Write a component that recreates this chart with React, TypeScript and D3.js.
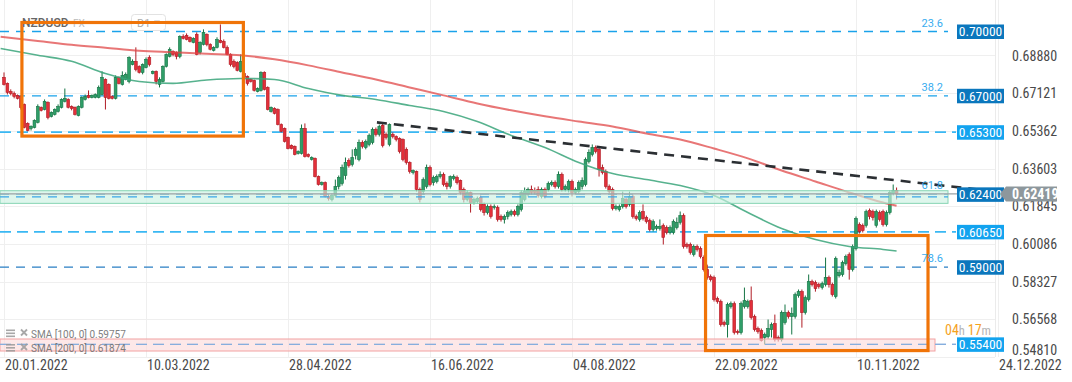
import React from 'react';
import * as d3 from 'd3';

const W = 1072;
const H = 382;

const dateLabels = ['20.01.2022', '10.03.2022', '28.04.2022', '16.06.2022', '04.08.2022', '22.09.2022', '10.11.2022', '24.12.2022'];
const dateIdx = [0, 42, 84, 126, 168, 210, 252, 294];

// [open, high, low, close]
const candles: [number, number, number, number][] = [
  [0.6786,0.6809,0.6748,0.6753],[0.6758,0.6762,0.6706,0.6716],[0.6720,0.6730,0.6702,0.6711],[0.6711,0.6720,0.6688,0.6697],
  [0.6702,0.6706,0.6683,0.6688],[0.6697,0.6702,0.6636,0.6646],[0.6660,0.6664,0.6548,0.6552],[0.6571,0.6576,0.6534,0.6538],
  [0.6548,0.6562,0.6538,0.6557],[0.6552,0.6590,0.6548,0.6585],[0.6576,0.6660,0.6571,0.6650],[0.6646,0.6650,0.6627,0.6632],
  [0.6636,0.6683,0.6632,0.6674],[0.6669,0.6674,0.6590,0.6599],[0.6604,0.6627,0.6599,0.6622],[0.6613,0.6641,0.6608,0.6636],
  [0.6627,0.6660,0.6622,0.6650],[0.6646,0.6688,0.6641,0.6683],[0.6674,0.6734,0.6669,0.6688],[0.6683,0.6688,0.6641,0.6646],
  [0.6650,0.6655,0.6632,0.6641],[0.6646,0.6650,0.6608,0.6613],[0.6608,0.6655,0.6604,0.6650],[0.6646,0.6697,0.6641,0.6692],
  [0.6683,0.6706,0.6678,0.6697],[0.6702,0.6725,0.6688,0.6692],[0.6692,0.6706,0.6688,0.6702],[0.6692,0.6711,0.6688,0.6706],
  [0.6692,0.6748,0.6688,0.6739],[0.6706,0.6814,0.6702,0.6786],[0.6776,0.6781,0.6636,0.6692],[0.6753,0.6758,0.6683,0.6688],
  [0.6697,0.6702,0.6683,0.6688],[0.6688,0.6795,0.6683,0.6786],[0.6786,0.6790,0.6753,0.6758],[0.6753,0.6814,0.6748,0.6795],
  [0.6776,0.6809,0.6772,0.6800],[0.6767,0.6884,0.6758,0.6879],[0.6846,0.6870,0.6842,0.6861],[0.6861,0.6926,0.6814,0.6823],
  [0.6837,0.6842,0.6804,0.6809],[0.6809,0.6851,0.6800,0.6846],[0.6832,0.6879,0.6828,0.6870],[0.6879,0.6889,0.6837,0.6846],
  [0.6804,0.6818,0.6800,0.6814],[0.6814,0.6818,0.6753,0.6767],[0.6753,0.6786,0.6739,0.6776],[0.6767,0.6842,0.6762,0.6837],
  [0.6837,0.6898,0.6832,0.6893],[0.6884,0.6926,0.6879,0.6917],[0.6907,0.6912,0.6884,0.6893],[0.6903,0.6907,0.6870,0.6884],
  [0.6884,0.6982,0.6875,0.6977],[0.6977,0.6987,0.6963,0.6968],[0.6982,0.6991,0.6959,0.6963],[0.6973,0.6977,0.6949,0.6954],
  [0.6949,0.6973,0.6945,0.6968],[0.6987,0.6996,0.6889,0.6893],[0.6903,0.6954,0.6893,0.6949],[0.6940,0.7010,0.6935,0.6996],
  [0.6987,0.6991,0.6931,0.6940],[0.6940,0.6945,0.6912,0.6917],[0.6912,0.6931,0.6907,0.6926],[0.6926,0.6973,0.6921,0.6963],
  [0.6959,0.7033,0.6945,0.6949],[0.6954,0.6963,0.6921,0.6926],[0.6926,0.6935,0.6889,0.6893],[0.6893,0.6898,0.6837,0.6846],
  [0.6861,0.6870,0.6828,0.6837],[0.6856,0.6861,0.6814,0.6818],[0.6814,0.6893,0.6809,0.6861],[0.6804,0.6814,0.6781,0.6786],
  [0.6790,0.6795,0.6748,0.6758],[0.6776,0.6781,0.6762,0.6767],[0.6772,0.6776,0.6720,0.6725],[0.6720,0.6739,0.6716,0.6734],
  [0.6725,0.6814,0.6720,0.6809],[0.6809,0.6814,0.6725,0.6730],[0.6739,0.6744,0.6632,0.6636],[0.6627,0.6650,0.6622,0.6646],
  [0.6641,0.6646,0.6613,0.6618],[0.6636,0.6641,0.6562,0.6566],[0.6566,0.6571,0.6529,0.6534],[0.6548,0.6552,0.6482,0.6487],
  [0.6506,0.6510,0.6450,0.6454],[0.6468,0.6473,0.6450,0.6454],[0.6464,0.6468,0.6422,0.6426],[0.6431,0.6445,0.6426,0.6440],
  [0.6431,0.6566,0.6426,0.6548],[0.6548,0.6571,0.6412,0.6417],[0.6426,0.6431,0.6412,0.6417],[0.6403,0.6417,0.6398,0.6412],
  [0.6408,0.6412,0.6319,0.6323],[0.6323,0.6328,0.6281,0.6286],[0.6286,0.6300,0.6281,0.6295],[0.6295,0.6300,0.6225,0.6230],
  [0.6230,0.6239,0.6211,0.6221],[0.6216,0.6244,0.6207,0.6235],[0.6235,0.6309,0.6225,0.6277],[0.6277,0.6328,0.6263,0.6319],
  [0.6291,0.6379,0.6281,0.6365],[0.6328,0.6412,0.6309,0.6389],[0.6398,0.6408,0.6365,0.6375],[0.6379,0.6450,0.6370,0.6412],
  [0.6422,0.6459,0.6403,0.6450],[0.6403,0.6496,0.6394,0.6482],[0.6482,0.6492,0.6454,0.6464],[0.6459,0.6496,0.6450,0.6487],
  [0.6473,0.6524,0.6464,0.6515],[0.6482,0.6552,0.6473,0.6543],[0.6543,0.6552,0.6510,0.6520],[0.6520,0.6566,0.6510,0.6557],
  [0.6562,0.6571,0.6459,0.6468],[0.6520,0.6529,0.6496,0.6506],[0.6473,0.6571,0.6464,0.6566],[0.6520,0.6529,0.6501,0.6510],
  [0.6510,0.6515,0.6487,0.6496],[0.6501,0.6506,0.6431,0.6440],[0.6496,0.6501,0.6394,0.6403],[0.6450,0.6459,0.6379,0.6389],
  [0.6389,0.6394,0.6337,0.6347],[0.6342,0.6356,0.6333,0.6351],[0.6347,0.6351,0.6253,0.6263],[0.6263,0.6272,0.6202,0.6216],
  [0.6253,0.6319,0.6239,0.6309],[0.6277,0.6379,0.6267,0.6365],[0.6365,0.6375,0.6277,0.6286],[0.6295,0.6328,0.6281,0.6319],
  [0.6300,0.6333,0.6291,0.6323],[0.6323,0.6347,0.6314,0.6333],[0.6333,0.6342,0.6277,0.6286],[0.6291,0.6300,0.6263,0.6277],
  [0.6277,0.6328,0.6267,0.6323],[0.6314,0.6333,0.6305,0.6323],[0.6319,0.6328,0.6286,0.6295],[0.6305,0.6309,0.6239,0.6249],
  [0.6263,0.6272,0.6202,0.6216],[0.6216,0.6258,0.6207,0.6249],[0.6249,0.6253,0.6155,0.6202],[0.6202,0.6225,0.6193,0.6216],
  [0.6207,0.6230,0.6197,0.6221],[0.6225,0.6235,0.6160,0.6169],[0.6193,0.6202,0.6141,0.6155],[0.6155,0.6193,0.6146,0.6183],
  [0.6183,0.6193,0.6127,0.6137],[0.6179,0.6193,0.6169,0.6183],[0.6179,0.6188,0.6113,0.6123],[0.6137,0.6146,0.6113,0.6123],
  [0.6123,0.6146,0.6104,0.6137],[0.6137,0.6165,0.6123,0.6155],[0.6146,0.6169,0.6137,0.6160],[0.6160,0.6169,0.6137,0.6146],
  [0.6146,0.6193,0.6137,0.6183],[0.6169,0.6258,0.6160,0.6249],[0.6216,0.6272,0.6207,0.6253],[0.6239,0.6272,0.6230,0.6263],
  [0.6263,0.6281,0.6239,0.6249],[0.6258,0.6272,0.6239,0.6249],[0.6263,0.6277,0.6225,0.6235],[0.6230,0.6272,0.6221,0.6263],
  [0.6263,0.6272,0.6221,0.6230],[0.6263,0.6300,0.6253,0.6291],[0.6286,0.6305,0.6277,0.6295],[0.6295,0.6305,0.6267,0.6277],
  [0.6277,0.6347,0.6267,0.6333],[0.6333,0.6342,0.6253,0.6263],[0.6263,0.6286,0.6253,0.6277],[0.6263,0.6309,0.6249,0.6300],
  [0.6300,0.6309,0.6230,0.6249],[0.6249,0.6272,0.6239,0.6263],[0.6253,0.6305,0.6244,0.6295],[0.6277,0.6319,0.6263,0.6305],
  [0.6286,0.6412,0.6277,0.6403],[0.6394,0.6450,0.6384,0.6436],[0.6426,0.6473,0.6417,0.6459],[0.6459,0.6468,0.6431,0.6440],
  [0.6450,0.6459,0.6323,0.6356],[0.6365,0.6379,0.6333,0.6342],[0.6347,0.6356,0.6267,0.6277],[0.6277,0.6286,0.6244,0.6253],
  [0.6263,0.6272,0.6165,0.6174],[0.6174,0.6193,0.6165,0.6183],[0.6169,0.6193,0.6160,0.6183],[0.6183,0.6253,0.6174,0.6221],
  [0.6216,0.6225,0.6174,0.6183],[0.6193,0.6253,0.6183,0.6230],[0.6230,0.6239,0.6127,0.6137],[0.6137,0.6146,0.6118,0.6127],
  [0.6123,0.6165,0.6113,0.6155],[0.6160,0.6193,0.6118,0.6127],[0.6132,0.6141,0.6104,0.6113],[0.6118,0.6127,0.6067,0.6076],
  [0.6076,0.6123,0.6067,0.6113],[0.6081,0.6099,0.6071,0.6090],[0.6081,0.6123,0.6071,0.6090],[0.6095,0.6104,0.6006,0.6039],
  [0.6085,0.6095,0.6053,0.6062],[0.6062,0.6095,0.6053,0.6085],[0.6062,0.6123,0.6053,0.6113],[0.6085,0.6132,0.6076,0.6109],
  [0.6109,0.6160,0.6099,0.6141],[0.6141,0.6151,0.5987,0.5997],[0.6006,0.6015,0.5987,0.5997],[0.6006,0.6015,0.5959,0.5969],
  [0.5959,0.6006,0.5950,0.5997],[0.5997,0.6006,0.5973,0.5983],[0.5987,0.5997,0.5941,0.5950],[0.5945,0.5955,0.5880,0.5889],
  [0.5889,0.5912,0.5842,0.5852],[0.5856,0.5866,0.5833,0.5842],[0.5852,0.5861,0.5740,0.5749],[0.5754,0.5763,0.5730,0.5740],
  [0.5740,0.5749,0.5623,0.5632],[0.5642,0.5651,0.5623,0.5632],[0.5632,0.5735,0.5572,0.5726],[0.5716,0.5740,0.5707,0.5730],
  [0.5730,0.5740,0.5586,0.5595],[0.5600,0.5609,0.5586,0.5595],[0.5595,0.5740,0.5586,0.5730],[0.5716,0.5805,0.5707,0.5744],
  [0.5716,0.5749,0.5707,0.5740],[0.5744,0.5810,0.5656,0.5665],[0.5670,0.5679,0.5600,0.5609],[0.5614,0.5623,0.5590,0.5600],
  [0.5604,0.5614,0.5553,0.5558],[0.5572,0.5595,0.5539,0.5586],[0.5576,0.5656,0.5567,0.5614],[0.5609,0.5642,0.5572,0.5632],
  [0.5637,0.5679,0.5553,0.5562],[0.5572,0.5581,0.5553,0.5562],[0.5562,0.5698,0.5553,0.5688],[0.5642,0.5726,0.5632,0.5688],
  [0.5688,0.5698,0.5660,0.5670],[0.5670,0.5712,0.5586,0.5684],[0.5670,0.5782,0.5660,0.5772],[0.5768,0.5796,0.5758,0.5786],
  [0.5786,0.5796,0.5618,0.5688],[0.5688,0.5768,0.5679,0.5758],[0.5749,0.5866,0.5740,0.5833],[0.5833,0.5842,0.5810,0.5819],
  [0.5828,0.5838,0.5786,0.5800],[0.5819,0.5828,0.5800,0.5810],[0.5805,0.5833,0.5796,0.5824],[0.5819,0.5945,0.5810,0.5852],
  [0.5852,0.5861,0.5805,0.5819],[0.5819,0.5828,0.5763,0.5772],[0.5763,0.5950,0.5754,0.5941],[0.5861,0.5889,0.5852,0.5875],
  [0.5866,0.5931,0.5856,0.5922],[0.5917,0.5959,0.5908,0.5950],[0.5959,0.5969,0.5842,0.5889],[0.5889,0.6006,0.5880,0.5997],
  [0.5987,0.6137,0.5978,0.6127],[0.6099,0.6109,0.6057,0.6067],[0.6095,0.6104,0.6062,0.6071],[0.6095,0.6169,0.6085,0.6160],
  [0.6165,0.6174,0.6123,0.6137],[0.6160,0.6169,0.6118,0.6132],[0.6095,0.6169,0.6085,0.6160],[0.6155,0.6165,0.6113,0.6123],
  [0.6160,0.6169,0.6090,0.6099],[0.6099,0.6165,0.6090,0.6155],[0.6155,0.6258,0.6146,0.6249],[0.6244,0.6286,0.6235,0.6258],
  [0.6258,0.6272,0.6216,0.6242],
];

const smaIdx = [-1, 10, 20, 30, 40, 50, 60, 70, 80, 90, 100, 110, 120, 130, 140, 150, 160, 170, 180, 190, 200, 210, 220, 230, 240, 250, 260, 264];
const sma100 = [0.6921,0.6889,0.6861,0.6804,0.6767,0.6758,0.6774,0.6781,0.6776,0.6734,0.6702,0.6683,0.6655,0.6627,0.6580,0.6515,0.6459,0.6389,0.6337,0.6309,0.6281,0.6235,0.6155,0.6081,0.6029,0.5997,0.5983,0.5976];
const sma200 = [0.6975,0.6956,0.6938,0.6924,0.6910,0.6903,0.6896,0.6889,0.6870,0.6842,0.6809,0.6776,0.6739,0.6702,0.6664,0.6632,0.6604,0.6580,0.6557,0.6524,0.6496,0.6454,0.6408,0.6351,0.6300,0.6249,0.6202,0.6187];
const smaLegend = [
  { name: 'SMA [100,  0]', value: '0.59757' },
  { name: 'SMA [200,  0]', value: '0.61874' },
];

const priceTicks = [0.6888, 0.67121, 0.65362, 0.63603, 0.61845, 0.60086, 0.58327, 0.56568, 0.5481];
const fibLevels = [0.7, 0.67, 0.624, 0.59];
const fibNames = ['23.6', '38.2', '61.8', '78.6'];
const srLevels = [0.653, 0.6065, 0.554];
const lastPrice = 0.62419;
const trendIdx = [110.3, 293.7];
const trendVal = [0.6576, 0.6253];
const greenZone = [0.6198, 0.6257];
const pinkZone = [0.5509, 0.5565];
const boxes = [
  { i0: 5.3, i1: 70.8, v0: 0.7042, v1: 0.6512 },
  { i0: 207.5, i1: 273.3, v0: 0.6048, v1: 0.5511 },
];

const NARROW = "'Liberation Sans Narrow', 'Arial Narrow', 'Roboto Condensed', Roboto, sans-serif";
const ROBOTO = "Roboto, 'Noto Sans', sans-serif";

export default function App() {
  const x = d3.scaleLinear().domain([0, 294]).range([4, 998]);
  const y = d3.scaleLinear().domain([0.5481, 0.7]).range([357, 31.5]);
  const plotRight = 995;

  const lineGen = d3
    .line<number>()
    .x((_, i) => x(smaIdx[i]))
    .y((d) => y(d))
    .curve(d3.curveMonotoneX);

  const green = '#2f9e68';
  const greenDark = '#157444';
  const red = '#e3303a';
  const redDark = '#b01c25';

  const boxColor = (v: number) => (fibLevels.includes(v) ? '#0b77bd' : '#12a3ef');
  const allLevels = [...fibLevels, ...srLevels];

  return (
    <svg width={W} height={H} style={{ position: 'absolute', left: 0, top: 0, background: '#fff' }}>
      <rect x={0} y={0} width={W} height={H} fill="#fff" />
      {/* grid */}
      {priceTicks.map((t) => (
        <line key={'hg' + t} x1={0} x2={plotRight} y1={Math.round(y(t)) + 0.5} y2={Math.round(y(t)) + 0.5} stroke="#efefef" />
      ))}
      {dateIdx.map((d) => (
        <line key={'vg' + d} x1={Math.round(x(d)) + 0.5} x2={Math.round(x(d)) + 0.5} y1={0} y2={357} stroke="#efefef" />
      ))}
      <line x1={plotRight + 0.5} x2={plotRight + 0.5} y1={0} y2={357} stroke="#ebebeb" />

      {/* level lines */}
      {fibLevels.map((v) => (
        <line key={'fl' + v} x1={0} x2={948} y1={y(v)} y2={y(v)} stroke={v === 0.59 ? '#2a7fc4' : '#1aa2ea'} strokeWidth={1.3} strokeDasharray="9,7" />
      ))}
      {srLevels.map((v) => (
        <line key={'sl' + v} x1={0} x2={956} y1={y(v)} y2={y(v)} stroke={v === 0.554 ? '#86aede' : '#3ab8f3'} strokeWidth={v === 0.554 ? 1.3 : 1.8} strokeDasharray="11,6" />
      ))}

      {/* candles */}
      {candles.map(([o, h, l, c], i) => {
        const xc = x(i);
        const up = c >= o;
        const yTop = y(Math.max(o, c));
        const yBot = y(Math.min(o, c));
        const hgt = Math.max(1, yBot - yTop);
        return (
          <g key={'c' + i}>
            <line x1={xc} x2={xc} y1={y(h)} y2={y(l)} stroke={up ? greenDark : redDark} strokeWidth={1} />
            <rect x={xc - 1.4} y={yTop} width={2.8} height={hgt} fill={up ? green : red} stroke={up ? greenDark : redDark} strokeWidth={0.6} />
          </g>
        );
      })}

      {/* SMA lines */}
      <path d={lineGen(sma200) || ''} fill="none" stroke="#e04848" strokeOpacity={0.75} strokeWidth={2} />
      <path d={lineGen(sma100) || ''} fill="none" stroke="#3aa57a" strokeOpacity={0.85} strokeWidth={1.6} />

      {/* zones */}
      <rect x={0} y={y(greenZone[1])} width={948} height={y(greenZone[0]) - y(greenZone[1])} fill="#cdf1e2" fillOpacity={0.65} stroke="#86d4b4" strokeWidth={1} />
      <rect x={0} y={y(pinkZone[1])} width={935} height={y(pinkZone[0]) - y(pinkZone[1])} fill="#fbd9d9" fillOpacity={0.6} stroke="#f2a2a2" strokeWidth={1} />
      <line x1={0} x2={956} y1={y(0.554)} y2={y(0.554)} stroke="#86aede" strokeWidth={1.3} strokeDasharray="11,6" />
      <line x1={0} x2={948} y1={y(0.624) + 2.5} y2={y(0.624) + 2.5} stroke="#3aa7e6" strokeWidth={1.2} strokeDasharray="9,7" />
      {/* last price line */}
      <line x1={0} x2={1000} y1={y(lastPrice)} y2={y(lastPrice)} stroke="#9aa2a6" strokeWidth={1.2} />

      {/* trend line */}
      <line x1={x(trendIdx[0])} x2={x(trendIdx[1])} y1={y(trendVal[0])} y2={y(trendVal[1])} stroke="#2b2f33" strokeWidth={2.6} strokeDasharray="10,7" />

      {/* orange boxes */}
      {boxes.map((b, k) => (
        <rect key={'b' + k} x={x(b.i0)} y={y(b.v0)} width={x(b.i1) - x(b.i0)} height={y(b.v1) - y(b.v0)} fill="none" stroke="#f07408" strokeWidth={3.2} />
      ))}

      {/* fib labels */}
      {fibLevels.map((v, k) => (
        <text key={'fn' + v} x={943} y={y(v) - 5} textAnchor="end" fontFamily={ROBOTO} fontSize={11} fill="#39acef">
          {fibNames[k]}
        </text>
      ))}

      {/* timer */}
      <text x={945} y={334.5} fontFamily={NARROW} fontSize={14}>
        <tspan fill="#f5a21e">04</tspan>
        <tspan fill="#b5b5b5" fontSize={12.5}>h </tspan>
        <tspan fill="#f5a21e">17</tspan>
        <tspan fill="#b5b5b5" fontSize={12.5}>m</tspan>
      </text>

      {/* level boxes */}
      {allLevels.map((v) => (
        <g key={'lb' + v}>
          <rect x={957} y={y(v) - 7} width={47} height={14.5} fill={boxColor(v)} />
          <text x={980.5} y={y(v) + 4.8} textAnchor="middle" fontFamily={NARROW} fontSize={13.5} fill="#fff">
            {v.toFixed(5)}
          </text>
        </g>
      ))}

      {/* price ticks */}
      {priceTicks.map((t) => (
        <text key={'pt' + t} x={1012} y={Math.min(y(t), 350) + 5} fontFamily={NARROW} fontSize={14} fill="#4a4a4a">
          {t.toFixed(5)}
        </text>
      ))}

      {/* current price box */}
      <path
        d={`M1000,${y(lastPrice)} L1006,${y(lastPrice) - 7.5} L1057,${y(lastPrice) - 7.5} L1057,${y(lastPrice) + 7.5} L1006,${y(lastPrice) + 7.5} Z`}
        fill="#8d979c"
      />
      <text x={1012} y={y(lastPrice) + 5} fontFamily={NARROW} fontWeight="bold" fontSize={14} fill="#fff">
        {lastPrice.toFixed(5)}
      </text>

      {/* date labels */}
      {dateIdx.map((d, k) => (
        <text key={'dl' + d} x={x(d) + 1} y={370} fontFamily={NARROW} fontSize={14} fill="#4a4a4a">
          {dateLabels[k]}
        </text>
      ))}

      {/* legend */}
      {smaLegend.map((s, k) => {
        const by = 337.5 + k * 14.5;
        return (
          <g key={'lg' + k} opacity={0.85}>
            <rect x={6} y={by - 8} width={9} height={1.6} fill="#9a9a9a" />
            <rect x={6} y={by - 5} width={9} height={1.6} fill="#9a9a9a" />
            <rect x={6} y={by - 2} width={9} height={1.6} fill="#9a9a9a" />
            <line x1={21} x2={27} y1={by - 8} y2={by - 2} stroke="#9a9a9a" strokeWidth={1.8} />
            <line x1={27} x2={21} y1={by - 8} y2={by - 2} stroke="#9a9a9a" strokeWidth={1.8} />
            <text x={31} y={by} fontFamily={ROBOTO} fontSize={10} fill="#6a6a6a">
              {s.name} {s.value}
            </text>
          </g>
        );
      })}

      {/* title */}
      <text x={22} y={27} fontFamily={ROBOTO} fontWeight={500} fontSize={12} fill="#666">
        NZDUSD
      </text>
      <text x={73} y={27} fontFamily={ROBOTO} fontSize={10} fill="#bbb">
        FX
      </text>
      <rect x={131.5} y={14.5} width={34} height={16} rx={3} fill="#fff" stroke="#e2e2e2" />
      <text x={137} y={27} fontFamily={ROBOTO} fontSize={11} fill="#aaa">
        D1
      </text>
      <path d="M154,20.5 L160,20.5 L157,24 Z" fill="#bbb" />
      {/* redraw the top edge of first box over title */}
      <line x1={x(boxes[0].i0)} x2={x(boxes[0].i1)} y1={y(boxes[0].v0)} y2={y(boxes[0].v0)} stroke="#f07408" strokeWidth={3.2} />
    </svg>
  );
}
